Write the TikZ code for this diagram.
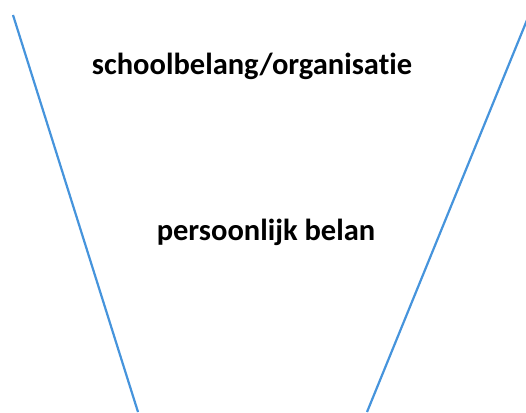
\documentclass[tikz,border=0pt]{standalone}
\usepackage{fontspec}
\setmainfont[Ligatures={NoCommon}]{Carlito}
\usetikzlibrary{positioning}

\begin{document}
\begin{tikzpicture}[
  x=1pt, y=-1pt,
  label/.style={font=\bfseries\fontsize{30.5}{36}\selectfont, anchor=base, inner sep=0pt},
  side/.style={draw={rgb,255:red,70;green,148;blue,220}, line width=2.2pt}
]
\useasboundingbox (0,0) rectangle (526,412);
\coordinate (lefttop) at (13,15);
\coordinate (leftbot) at (138,412);
\coordinate (righttop) at (527,20);
\coordinate (rightbot) at (367,412);
\node[label] (school) at (252,74) {schoolbelang/organisatie};
\node[label] (person) at (266,240) {persoonlijk belan};
\draw[side] (lefttop) -- (leftbot);
\draw[side] (righttop) -- (rightbot);
\end{tikzpicture}
\end{document}
